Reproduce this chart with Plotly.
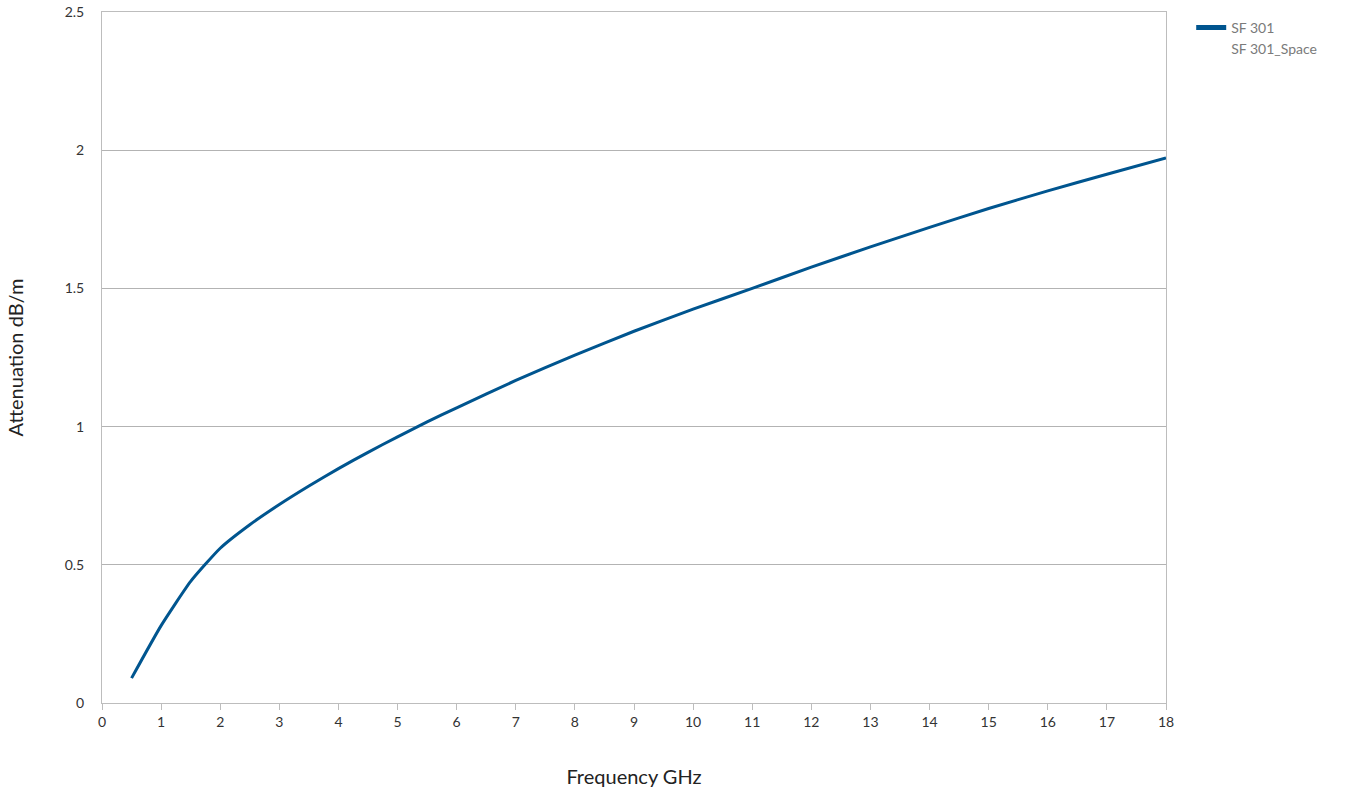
import plotly.graph_objects as go

freq_ghz = [0.5, 1.0, 1.5, 2.0, 2.5, 3.0, 3.5, 4.0, 4.5, 5.0, 5.5, 6.0, 7.0, 8.0,
            9.0, 10.0, 11.0, 12.0, 13.0, 14.0, 15.0, 16.0, 17.0, 18.0]
atten_sf301 = [0.09, 0.28, 0.44, 0.56, 0.645, 0.718, 0.785, 0.848, 0.907, 0.963, 1.017,
               1.068, 1.167, 1.259, 1.345, 1.425, 1.50, 1.577, 1.650, 1.721, 1.789,
               1.853, 1.913, 1.972]
series_names = ["SF 301", "SF 301_Space"]
x_ticks = list(range(0, 19))
y_ticks = [0, 0.5, 1, 1.5, 2, 2.5]
y_ticktext = ["0", "0.5", "1", "1.5", "2", "2.5"]

FONT = "Lato, 'Open Sans', sans-serif"

fig = go.Figure()
fig.add_trace(go.Scatter(
    x=freq_ghz, y=atten_sf301, mode="lines", name=series_names[0],
    line=dict(color="#00558f", width=3, shape="spline", smoothing=0.5),
    hoverinfo="x+y",
))
fig.add_trace(go.Scatter(
    x=[None], y=[None], mode="lines", name=series_names[1],
    line=dict(color="rgba(0,0,0,0)", width=3),
))

fig.update_layout(
    width=1346, height=794,
    margin=dict(l=102, r=180, t=12, b=91, autoexpand=False),
    paper_bgcolor="white", plot_bgcolor="white",
    font=dict(family=FONT, color="#444444", size=14),
    showlegend=True,
    legend=dict(
        xref="container", yref="container",
        x=0.885, xanchor="left", y=0.985, yanchor="top",
        font=dict(family=FONT, size=14, color="#7a7a7a"),
        bgcolor="rgba(0,0,0,0)", borderwidth=0,
        itemsizing="constant",
    ),
    xaxis=dict(
        range=[0, 18], tickvals=x_ticks, showgrid=False, automargin=False,
        showline=True, linecolor="#bdbdbd", linewidth=1, mirror=True,
        ticks="outside", ticklen=6, tickcolor="#bdbdbd",
        tickfont=dict(size=14, color="#333333"),
        ticklabeloverflow="allow",
        title=dict(text="Frequency GHz", font=dict(size=20, color="#222222"), standoff=41),
        zeroline=False,
    ),
    yaxis=dict(
        range=[0, 2.5], tickvals=y_ticks, ticktext=y_ticktext, automargin=False,
        showgrid=True, gridcolor="#b3b3b3", gridwidth=1,
        showline=True, linecolor="#bdbdbd", linewidth=1, mirror=True,
        ticks="", ticklabelstandoff=14,
        tickfont=dict(size=14, color="#333333"),
        ticklabeloverflow="allow",
        title=dict(text="Attenuation dB/m", font=dict(size=20, color="#222222"), standoff=35),
        zeroline=False,
    ),
)

fig.write_html("out.html", config={"displayModeBar": False},
               post_script="document.body.style.margin='0';")
